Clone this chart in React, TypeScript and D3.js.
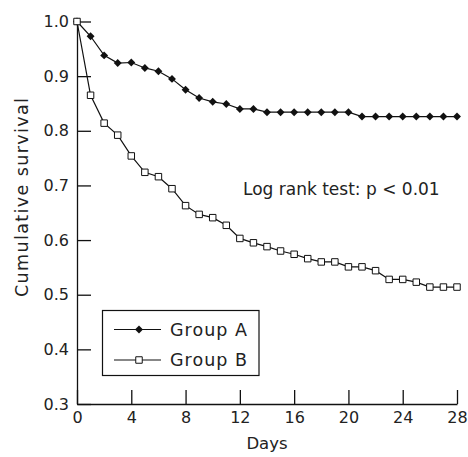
import React, { useEffect, useRef } from 'react';
import * as d3 from 'd3';

// survival estimates, day 0..28
const days = d3.range(0, 29);
const groupA = [
  1.0, 0.973, 0.938, 0.924, 0.925, 0.915, 0.909, 0.895, 0.875, 0.86,
  0.853, 0.849, 0.84, 0.84, 0.834, 0.834, 0.834, 0.834, 0.834, 0.834,
  0.834, 0.826, 0.826, 0.826, 0.826, 0.826, 0.826, 0.826, 0.826,
];
const groupB = [
  1.0, 0.865, 0.814, 0.792, 0.754, 0.724, 0.716, 0.694, 0.663, 0.647,
  0.641, 0.627, 0.603, 0.595, 0.588, 0.58, 0.574, 0.566, 0.56, 0.56,
  0.551, 0.551, 0.544, 0.528, 0.528, 0.523, 0.514, 0.514, 0.514,
];
const xTicks = [0, 4, 8, 12, 16, 20, 24, 28];
const yTicks = [0.3, 0.4, 0.5, 0.6, 0.7, 0.8, 0.9, 1.0];
const seriesNames = ['Group A', 'Group B'];

const font = '"DejaVu Sans", sans-serif';

const App = () => {
  const ref = useRef<SVGSVGElement | null>(null);

  useEffect(() => {
    const width = 468;
    const height = 457;
    const svg = d3.select(ref.current);
    svg.selectAll('*').remove();
    svg.attr('width', width).attr('height', height);

    const x = d3.scaleLinear().domain([0, 28]).range([77, 457]);
    const y = d3.scaleLinear().domain([0.3, 1.0]).range([404, 21.5]);

    const yAxis = svg.append('g')
      .attr('transform', `translate(${x(0)},0)`)
      .call(d3.axisLeft(y).tickValues(yTicks).tickFormat(d3.format('.1f'))
        .tickSize(-14).tickSizeOuter(0).tickPadding(8));
    const xAxis = svg.append('g')
      .attr('transform', `translate(0,${y(0.3)})`)
      .call(d3.axisBottom(x).tickValues(xTicks).tickFormat(d3.format('d'))
        .tickSize(-14).tickSizeOuter(0).tickPadding(8));

    [yAxis, xAxis].forEach(a => {
      a.selectAll('path, line').attr('stroke', '#111').attr('stroke-width', 1.3);
      a.selectAll('text').attr('font-family', font).attr('font-size', 16).attr('fill', '#222');
    });

    const line = d3.line<number>()
      .x((d, i) => x(days[i]))
      .y(d => y(d));

    const diamond = d3.symbol(d3.symbolDiamond2, 40);
    const square = d3.symbol(d3.symbolSquare, 42);

    // group B first so A sits on top at day 0
    svg.append('path').attr('d', line(groupB)).attr('fill', 'none')
      .attr('stroke', '#111').attr('stroke-width', 1.2);
    svg.append('path').attr('d', line(groupA)).attr('fill', 'none')
      .attr('stroke', '#111').attr('stroke-width', 1.2);

    svg.append('g').selectAll('path').data(groupA).enter().append('path')
      .attr('d', diamond)
      .attr('transform', (d, i) => `translate(${x(days[i])},${y(d)})`)
      .attr('fill', '#111');
    svg.append('g').selectAll('path').data(groupB).enter().append('path')
      .attr('d', square)
      .attr('transform', (d, i) => `translate(${x(days[i])},${y(d)})`)
      .attr('fill', '#fff').attr('stroke', '#111').attr('stroke-width', 1);

    // legend
    const lg = svg.append('g');
    lg.append('rect').attr('x', 102.5).attr('y', 310.5).attr('width', 156.5).attr('height', 65)
      .attr('fill', '#fff').attr('stroke', '#111').attr('stroke-width', 1.2);
    const rows = [329.5, 360];
    seriesNames.forEach((name, i) => {
      lg.append('line').attr('x1', 114).attr('x2', 161).attr('y1', rows[i]).attr('y2', rows[i])
        .attr('stroke', '#111').attr('stroke-width', 1.2);
      lg.append('path').attr('d', i === 0 ? diamond : square)
        .attr('transform', `translate(139,${rows[i]})`)
        .attr('fill', i === 0 ? '#111' : '#fff')
        .attr('stroke', i === 0 ? 'none' : '#111');
      lg.append('text').attr('x', 170).attr('y', rows[i]).attr('dy', '0.36em')
        .attr('font-family', font).attr('font-size', 17.5).attr('fill', '#222')
        .attr('textLength', 77).attr('lengthAdjust', 'spacing')
        .text(name);
    });

    svg.append('text').attr('x', 243).attr('y', 195)
      .attr('font-family', font).attr('font-size', 17).attr('fill', '#222')
      .text('Log rank test: p < 0.01');

    svg.append('text').attr('x', 267).attr('y', 449).attr('text-anchor', 'middle')
      .attr('font-family', font).attr('font-size', 16.5).attr('fill', '#222').text('Days');

    svg.append('text').attr('transform', 'translate(28,197.5) rotate(-90)')
      .attr('text-anchor', 'middle')
      .attr('font-family', font).attr('font-size', 17.5).attr('fill', '#222')
      .attr('textLength', 199).attr('lengthAdjust', 'spacing')
      .text('Cumulative survival');
  }, []);

  return <svg ref={ref} style={{ position: 'absolute', left: 0, top: 0 }} />;
};

export default App;
